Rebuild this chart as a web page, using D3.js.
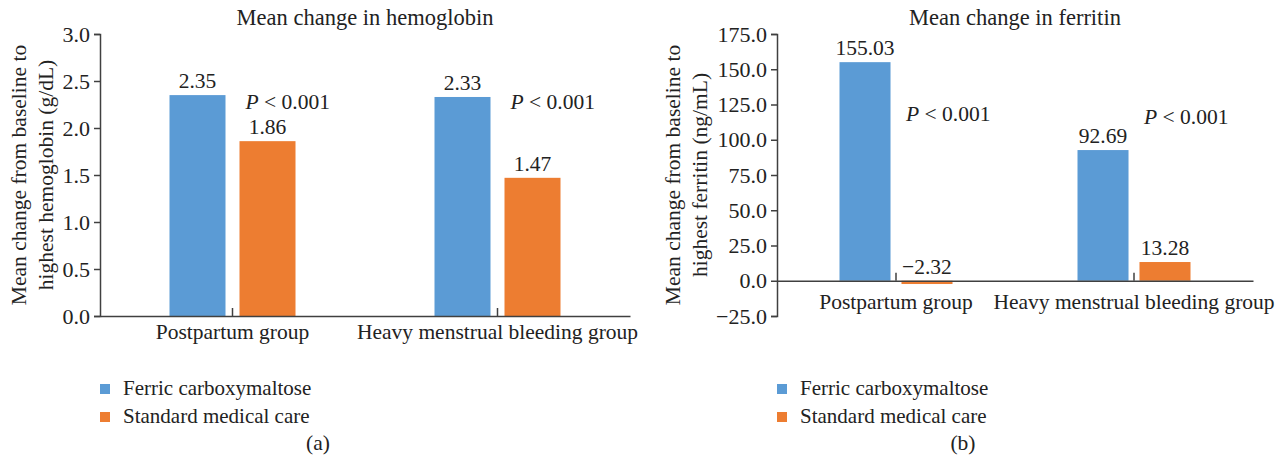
<!DOCTYPE html>
<html>
<head>
<meta charset="utf-8">
<script src="https://cdn.jsdelivr.net/npm/d3@7"></script>
<style>
  body { margin: 0; background: #fff; }
  svg text { font-family: "Liberation Serif", "Times New Roman", serif; fill: #222; }
</style>
</head>
<body>
<svg id="chart" width="1281" height="461"></svg>
<script>
// data
var groups = ['Postpartum group', 'Heavy menstrual bleeding group'];
var seriesNames = ['Ferric carboxymaltose', 'Standard medical care'];
var seriesColors = ['#5b9bd5', '#ed7d31'];

var hemoFCM = [2.35, 2.33];
var hemoSMC = [1.86, 1.47];
var hemoTicks = [0, 0.5, 1, 1.5, 2, 2.5, 3];

var ferFCM = [155.03, 92.69];
var ferSMC = [-2.32, 13.28];
var ferTicks = [-25, 0, 25, 50, 75, 100, 125, 150, 175];

var pLabel = '< 0.001';

var svg = d3.select('#chart');
var fontSize = 21.5;
var titleSize = 22.5;

function drawPanel(cfg){
    var g = svg.append('g');

    var y = d3.scaleLinear()
              .domain(cfg.domain)
              .range([316, 34]);

    var x0 = d3.scaleBand()
               .domain(groups)
               .range([cfg.left, cfg.right])
               .padding(0);

    var x1 = d3.scaleBand()
               .domain(seriesNames)
               .range([-cfg.half, cfg.half])
               .paddingInner(cfg.inner);

    var rows = [];
    groups.forEach(function(grp, i){
        rows.push({group: grp, series: seriesNames[0], value: cfg.a[i], color: seriesColors[0]});
        rows.push({group: grp, series: seriesNames[1], value: cfg.b[i], color: seriesColors[1]});
    });

    // title
    g.append('text')
     .attr('x', (cfg.left + cfg.right) / 2)
     .attr('y', 25)
     .attr('text-anchor', 'middle')
     .attr('font-size', titleSize)
     .text(cfg.title);

    // bars
    g.selectAll('.bar')
     .data(rows)
     .enter()
     .append('rect')
     .attr('class', 'bar')
     .attr('x', d => x0(d.group) + x0.bandwidth() / 2 + x1(d.series))
     .attr('width', x1.bandwidth())
     .attr('y', d => y(Math.max(0, d.value)))
     .attr('height', d => Math.abs(y(d.value) - y(0)))
     .attr('fill', d => d.color);

    // value labels
    g.selectAll('.vlabel')
     .data(rows)
     .enter()
     .append('text')
     .attr('class', 'vlabel')
     .attr('x', d => x0(d.group) + x0.bandwidth() / 2 + x1(d.series) + x1.bandwidth() / 2)
     .attr('y', d => y(Math.max(0, d.value)) - 7)
     .attr('text-anchor', 'middle')
     .attr('font-size', fontSize)
     .text(d => d3.format('.2f')(d.value));

    // y axis
    var yAxis = d3.axisLeft(y)
                  .tickValues(cfg.ticks)
                  .tickFormat(d3.format('.1f'))
                  .tickSize(6)
                  .tickPadding(4);
    var ya = g.append('g')
              .attr('transform', `translate(${cfg.left},0)`)
              .call(yAxis);
    ya.select('.domain').attr('stroke', '#404040').attr('stroke-width', 1.5);
    ya.selectAll('.tick line').attr('stroke', '#404040').attr('stroke-width', 1.5);
    ya.selectAll('.tick text')
      .attr('font-size', 22)
      .attr('font-family', '"Liberation Serif", serif')
      .attr('fill', '#222');

    // baseline + category ticks
    var xAxis = d3.axisTop(x0)
                  .tickSize(8)
                  .tickSizeOuter(0)
                  .tickFormat('');
    var xa = g.append('g')
              .attr('transform', `translate(0,${y(0)})`)
              .call(xAxis);
    xa.select('.domain').attr('stroke', '#404040').attr('stroke-width', 1.5);
    xa.selectAll('.tick line').attr('stroke', '#404040').attr('stroke-width', 1.5);

    // category labels
    g.selectAll('.cat')
     .data(groups)
     .enter()
     .append('text')
     .attr('x', d => x0(d) + x0.bandwidth() / 2)
     .attr('y', y(0) + cfg.catDy)
     .attr('text-anchor', 'middle')
     .attr('font-size', fontSize)
     .text(d => d);

    // p-value annotations
    var p = g.selectAll('.pval')
             .data(groups)
             .enter()
             .append('text')
             .attr('x', d => x0(d) + x0.bandwidth() / 2 + cfg.pDx)
             .attr('y', (d, i) => y(cfg.pY[i]))
             .attr('font-size', fontSize);
    p.append('tspan').attr('font-style', 'italic').text('P');
    p.append('tspan').text(' ' + pLabel);

    // y axis title
    var yt = g.append('text')
              .attr('transform', `translate(${cfg.ytX},175) rotate(-90)`)
              .attr('text-anchor', 'middle')
              .attr('font-size', fontSize);
    yt.append('tspan').attr('x', 0).attr('dy', 0).text(cfg.yTitle[0]);
    yt.append('tspan').attr('x', 0).attr('dy', 27).text(cfg.yTitle[1]);

    // legend
    var leg = g.selectAll('.leg')
               .data(seriesNames)
               .enter()
               .append('g')
               .attr('transform', (d, i) => `translate(${cfg.left},${384 + i * 28})`);
    leg.append('rect')
       .attr('width', 10)
       .attr('height', 10)
       .attr('fill', (d, i) => seriesColors[i]);
    leg.append('text')
       .attr('x', 23)
       .attr('y', 11)
       .attr('font-size', 21)
       .text(d => d);

    // panel letter
    g.append('text')
     .attr('x', cfg.letterX)
     .attr('y', 450)
     .attr('text-anchor', 'middle')
     .attr('font-size', fontSize)
     .text(cfg.letter);
}

drawPanel({
    title: 'Mean change in hemoglobin',
    a: hemoFCM, b: hemoSMC,
    domain: [0, 3], ticks: hemoTicks,
    left: 100, right: 630,
    half: 63, inner: 0.2,
    catDy: 23, pDx: 13, pY: [2.2, 2.2],
    ytX: 26,
    yTitle: ['Mean change from baseline to', 'highest hemoglobin (g/dL)'],
    letter: '(a)', letterX: 318
});

drawPanel({
    title: 'Mean change in ferritin',
    a: ferFCM, b: ferSMC,
    domain: [-25, 175], ticks: ferTicks,
    left: 777, right: 1253,
    half: 56.5, inner: 0.177,
    catDy: 28, pDx: 10, pY: [113, 111],
    ytX: 680,
    yTitle: ['Mean change from baseline to', 'highest ferritin (ng/mL)'],
    letter: '(b)', letterX: 963
});
</script>
</body>
</html>
